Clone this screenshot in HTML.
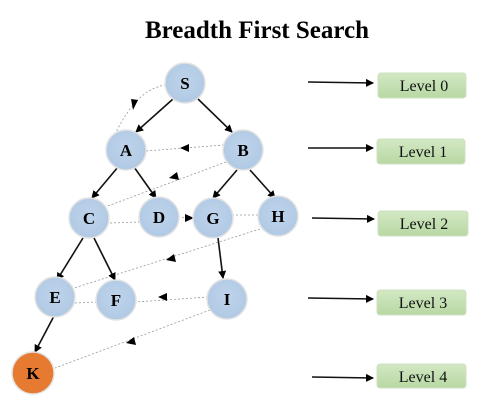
<!DOCTYPE html><html><head><style>body{margin:0;background:#fff}svg{display:block}</style></head><body>
<svg width="500" height="400" viewBox="0 0 500 400" xmlns="http://www.w3.org/2000/svg" font-family="Liberation Serif, serif">
<defs>
<marker id="a" markerWidth="8" markerHeight="8" refX="7" refY="4" orient="auto" markerUnits="userSpaceOnUse"><path d="M0,0L8,4L0,8z" fill="#000"/></marker>
<radialGradient id="g" cx="50%" cy="45%" r="55%"><stop offset="0" stop-color="#bfd4eb"/><stop offset="1" stop-color="#b0c9e4"/></radialGradient>
<linearGradient id="lv" x1="0" y1="0" x2="0" y2="1"><stop offset="0" stop-color="#d3e8c4"/><stop offset="1" stop-color="#b7d8a3"/></linearGradient>
</defs>
<text x="257" y="38" text-anchor="middle" font-size="25" font-weight="bold">Breadth First Search</text>
<g stroke="#999" stroke-width="0.8" stroke-dasharray="2,2" fill="none">
<path d="M166,85 C140,88 125,115 116,132"/>
<path d="M224,145 L146,151"/>
<path d="M226,162 L105,207"/>
<path d="M110,223 L140,222"/>
<path d="M232,215 L259,215"/>
<path d="M260,229 L74,288"/>
<path d="M75,303 L97,302"/>
<path d="M208,297 L136,302"/>
<path d="M210,310 L55,368"/>
<path d="M178,217 L194,218"/>
</g>
<g fill="#000">
<path d="M138,100 l-5,10 l-2,-11z"/>
<path d="M180,148 l9,-4 l0,8z"/>
<path d="M169,178 l8,-6 l2,8z"/>
<path d="M166,260 l8,-6 l2,8z"/>
<path d="M158,297 l9,-4 l0,8z"/>
<path d="M126,343 l8,-6 l2,8z"/>
<path d="M194,218 l-9,-4 l0,8z"/>
</g>
<g stroke="#111" stroke-width="1.6" marker-end="url(#a)">
<line x1="173" y1="99" x2="136" y2="132"/>
<line x1="198" y1="99" x2="232" y2="132"/>
<line x1="118" y1="167" x2="92" y2="198"/>
<line x1="134" y1="167" x2="156" y2="198"/>
<line x1="237" y1="170" x2="213" y2="198"/>
<line x1="250" y1="170" x2="275" y2="198"/>
<line x1="83" y1="238" x2="57" y2="280"/>
<line x1="94" y1="238" x2="115" y2="280"/>
<line x1="218" y1="238" x2="223" y2="278"/>
<line x1="54" y1="316" x2="35" y2="352"/>
<line x1="308" y1="82" x2="373" y2="83"/>
<line x1="308" y1="148" x2="373" y2="148"/>
<line x1="312" y1="218" x2="374" y2="219"/>
<line x1="308" y1="298" x2="373" y2="299"/>
<line x1="312" y1="377" x2="373" y2="378"/>
</g>
<g stroke="#e2e2e2" stroke-width="1.5" fill="url(#g)">
<circle cx="185" cy="83" r="20"/><circle cx="126" cy="150" r="20"/><circle cx="243" cy="150" r="20"/>
<circle cx="89" cy="218" r="20"/><circle cx="159" cy="217" r="20"/><circle cx="213" cy="218" r="20"/><circle cx="278" cy="216" r="20"/>
<circle cx="55" cy="297" r="20"/><circle cx="116" cy="300" r="20"/><circle cx="227" cy="299" r="20"/>
<circle cx="33" cy="373" r="21" fill="#e67a30"/>
</g>
<g font-size="17" font-weight="bold" text-anchor="middle">
<text x="185" y="89">S</text><text x="126" y="156">A</text><text x="243" y="156">B</text>
<text x="89" y="224">C</text><text x="159" y="223">D</text><text x="213" y="224">G</text><text x="278" y="222">H</text>
<text x="55" y="303">E</text><text x="116" y="306">F</text><text x="227" y="305">I</text><text x="33" y="379">K</text>
</g>
<g stroke="#cfe0c3" stroke-width="1" fill="url(#lv)">
<rect x="378" y="73" width="88" height="25" rx="3"/><rect x="377" y="139" width="88" height="25" rx="3"/>
<rect x="378" y="211" width="90" height="25" rx="3"/><rect x="377" y="290" width="89" height="25" rx="3"/>
<rect x="377" y="364" width="89" height="24" rx="3"/>
</g>
<g font-size="16" text-anchor="middle" fill="#111">
<text x="424" y="91">Level 0</text><text x="423" y="157">Level 1</text><text x="424" y="229">Level 2</text>
<text x="423" y="308">Level 3</text><text x="423" y="382">Level 4</text>
</g>
</svg></body></html>
